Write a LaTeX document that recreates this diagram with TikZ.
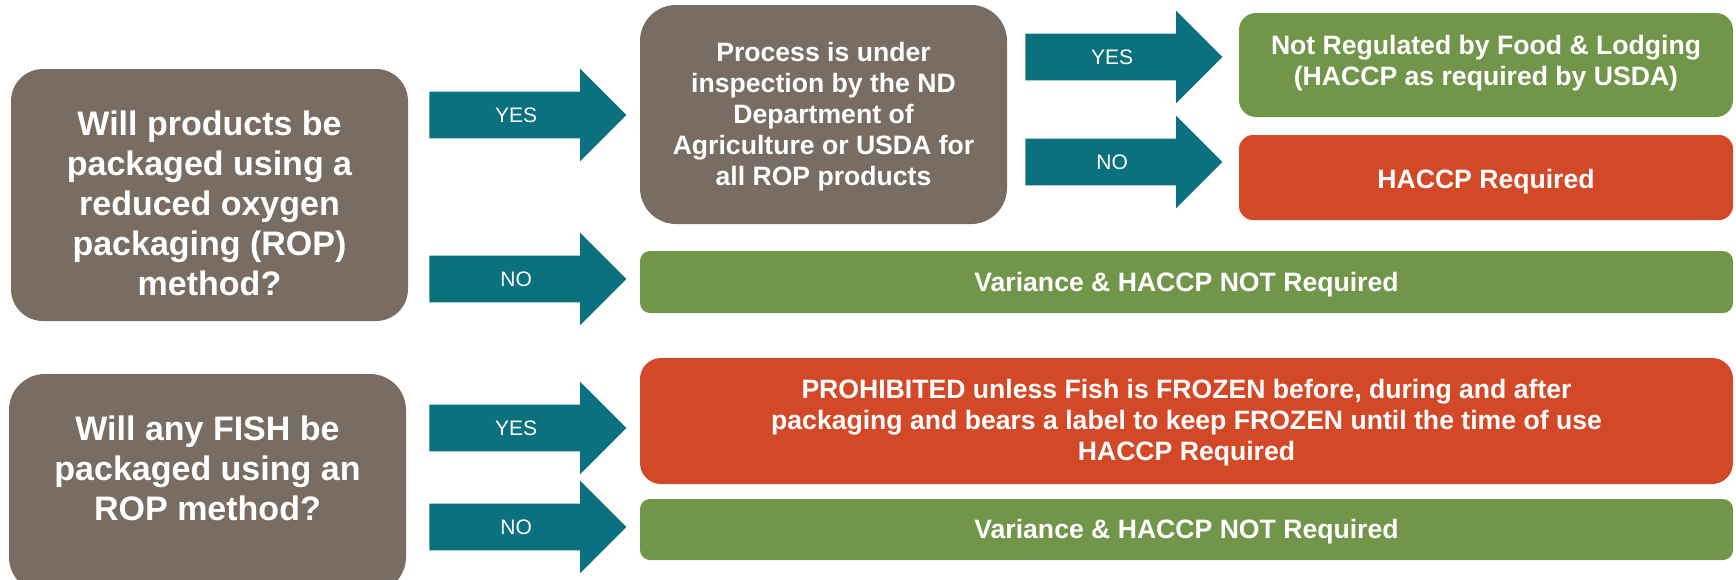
\documentclass[tikz,border=0pt]{standalone}
\usepackage{fontspec}
\setmainfont{Liberation Sans}
\usetikzlibrary{shapes.arrows}

\definecolor{boxgrey}{RGB}{121,109,99}
\definecolor{arrowteal}{RGB}{11,113,126}
\definecolor{okgreen}{RGB}{113,150,74}
\definecolor{stopred}{RGB}{211,72,38}

\begin{document}
\begin{tikzpicture}[x=0.5pt,y=-0.5pt,
    lastline/.style={text height=#1, text depth=0pt},
    question/.style={fill=boxgrey, text=white, font=\bfseries\fontsize{17}{20}\selectfont,
        align=center, inner sep=0pt},
    answer/.style={text=white, font=\bfseries\fontsize{13.3}{15.5}\selectfont,
        align=center, inner sep=0pt},
    flowarrow/.style={single arrow, fill=arrowteal, text=white,
        font=\fontsize{10.5}{12}\selectfont, inner xsep=0pt, inner ysep=7.75pt,
        text height=7.5pt, text depth=0pt,
        minimum height=98.5pt, minimum width=46pt, single arrow head extend=11.5pt,
        anchor=tail}]

\useasboundingbox (0,0) rectangle (1736,579);
\clip (0,0) rectangle (1736,579);

% questions
\node[question, lastline=100pt, rounded corners=16pt, minimum width=198.5pt, minimum height=126pt]
    (q1) at (209.5,195) {Will products be\\packaged using a\\reduced oxygen\\packaging (ROP)\\method?};
\node[question, lastline=36.5pt, rounded corners=18pt, minimum width=198.5pt, minimum height=109.5pt]
    (q2) at (207.5,483.5) {Will any FISH be\\packaged using an\\ROP method?};

% second step
\node[answer, lastline=70.5pt, fill=boxgrey, rounded corners=18pt, minimum width=183.5pt, minimum height=109.5pt]
    (proc) at (823.5,114.5) {Process is under\\inspection by the ND\\Department of\\Agriculture or USDA for\\all ROP products};

% results
\node[answer, lastline=20pt, fill=okgreen, rounded corners=8.5pt, minimum width=247pt, minimum height=52pt]
    (notreg) at (1486,65) {Not Regulated by Food \& Lodging\\(HACCP as required by USDA)};
\node[answer, lastline=10.5pt, fill=stopred, rounded corners=7pt, minimum width=247pt, minimum height=42.5pt]
    (haccp) at (1486,177.5) {HACCP Required};
\node[answer, lastline=9.7pt, fill=okgreen, rounded corners=5pt, minimum width=546.5pt, minimum height=31pt]
    (var1) at (1186.5,282) {Variance \& HACCP NOT Required};
\node[answer, lastline=39pt, fill=stopred, rounded corners=10.5pt, minimum width=546.5pt, minimum height=63pt]
    (prohib) at (1186.5,421) {PROHIBITED unless Fish is FROZEN before, during and after\\packaging and bears a label to keep FROZEN until the time of use\\HACCP Required};
\node[answer, lastline=8.8pt, fill=okgreen, rounded corners=5pt, minimum width=546.5pt, minimum height=30.5pt]
    (var2) at (1186.5,529.5) {Variance \& HACCP NOT Required};

% arrows
\node[flowarrow] (yes1) at (429,115) {YES};
\node[flowarrow] (no1) at (429,279) {NO};
\node[flowarrow] (yes2) at (1025,57) {YES};
\node[flowarrow] (no2) at (1025,162) {NO};
\node[flowarrow] (yes3) at (429,428) {YES};
\node[flowarrow] (no3) at (429,527) {NO};

\end{tikzpicture}
\end{document}
